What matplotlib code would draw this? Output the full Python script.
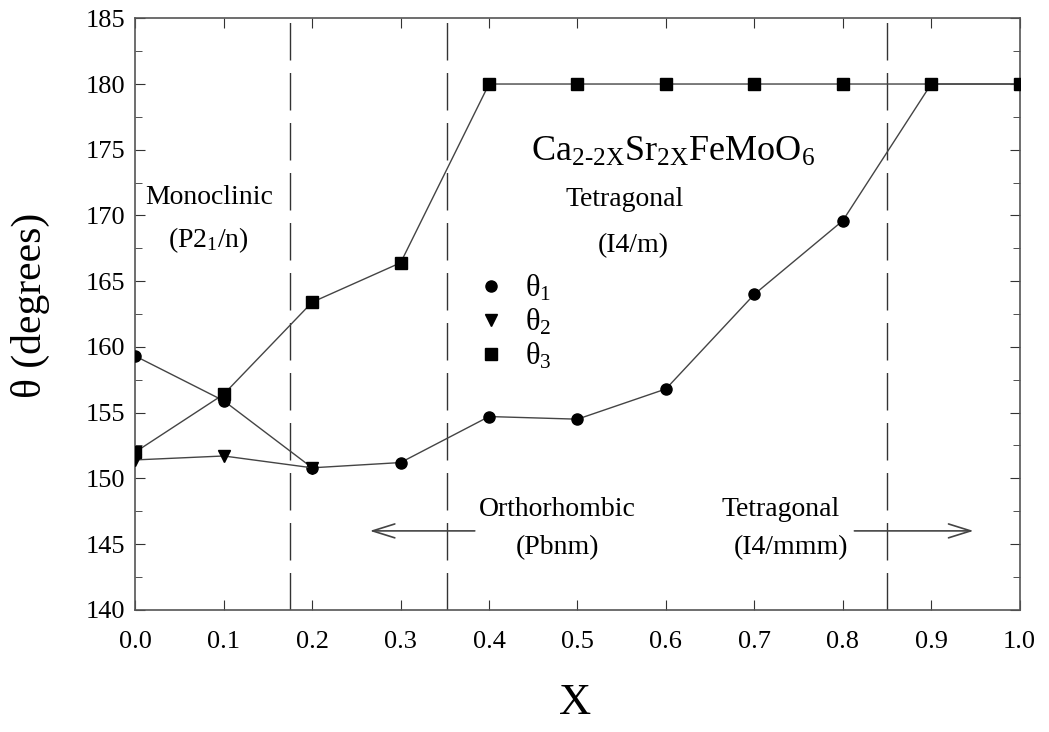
import matplotlib
matplotlib.use("Agg")
import matplotlib.pyplot as plt
from matplotlib.lines import Line2D
from matplotlib.ticker import MultipleLocator, FormatStrFormatter

plt.rcParams['font.family'] = ['Liberation Serif', 'DejaVu Serif']
plt.rcParams['mathtext.fontset'] = 'custom'
plt.rcParams['mathtext.rm'] = 'Liberation Serif'
plt.rcParams['mathtext.it'] = 'Liberation Serif'

# composition x and angles (degrees)
x = [0.0, 0.1, 0.2, 0.3, 0.4, 0.5, 0.6, 0.7, 0.8, 0.9, 1.0]
theta1 = [159.3, 155.9, 150.8, 151.2, 154.7, 154.5, 156.8, 164.0, 169.6, 180.0, 180.0]
x2 = [0.0, 0.1, 0.2]
theta2 = [151.4, 151.7, 150.8]
theta3 = [152.0, 156.4, 163.4, 166.4, 180.0, 180.0, 180.0, 180.0, 180.0, 180.0, 180.0]

# phase boundaries
boundaries = [0.175, 0.352, 0.85]

fig = plt.figure(figsize=(10.49, 7.32), dpi=100)
ax = fig.add_axes([0.129, 0.167, 0.843, 0.808])

lc = '#444444'
ax.plot(x, theta1, '-', color=lc, lw=1.0, marker='o', ms=8, mfc='black', mec='black', zorder=3)
ax.plot(x2, theta2, '-', color=lc, lw=1.0, marker='v', ms=8, mfc='black', mec='black', zorder=3)
ax.plot(x, theta3, '-', color=lc, lw=1.0, marker='s', ms=8, mfc='black', mec='black', zorder=3)

for b in boundaries:
    ax.axvline(b, color='#333333', lw=1.0, linestyle=(0, (27, 9)), zorder=1)

ax.set_xlim(0, 1.0)
ax.set_ylim(140, 185)
ax.xaxis.set_major_locator(MultipleLocator(0.1))
ax.yaxis.set_major_locator(MultipleLocator(5))
ax.yaxis.set_minor_locator(MultipleLocator(2.5))
ax.xaxis.set_major_formatter(FormatStrFormatter('%.1f'))
ax.tick_params(which='both', direction='in', top=True, right=True, labelsize=19, color='#333333')
ax.tick_params(which='major', length=7)
ax.tick_params(which='minor', length=5)
ax.tick_params(axis='x', pad=15)
ax.tick_params(axis='y', pad=7)
for s in ax.spines.values():
    s.set_color('#555555')
    s.set_linewidth(1.2)

ax.set_xlabel('X', fontsize=32)
ax.xaxis.set_label_coords(0.497, -0.123)
ax.set_ylabel('θ (degrees)', fontsize=30)
ax.yaxis.set_label_coords(-0.096, 0.515)

# annotations
fs = 20
ax.text(0.083, 171.4, 'Monoclinic', ha='center', va='center', fontsize=fs)
ax.text(0.083, 168.1, r'(P2$_1$/n)', ha='center', va='center', fontsize=fs)
ax.text(0.608, 174.8, r'Ca$_{\mathrm{2\text{-}2X}}$Sr$_{\mathrm{2X}}$FeMoO$_6$', ha='center', va='center', fontsize=26)
ax.text(0.553, 171.2, 'Tetragonal', ha='center', va='center', fontsize=fs)
ax.text(0.563, 167.7, '(I4/m)', ha='center', va='center', fontsize=fs)
ax.text(0.477, 147.6, 'Orthorhombic', ha='center', va='center', fontsize=fs)
ax.text(0.477, 144.7, '(Pbnm)', ha='center', va='center', fontsize=fs)
ax.text(0.73, 147.6, 'Tetragonal', ha='center', va='center', fontsize=fs)
ax.text(0.742, 144.7, '(I4/mmm)', ha='center', va='center', fontsize=fs)

arrow = dict(arrowstyle='->,head_length=1.6,head_width=0.5', color='#444444', lw=1.2)
ax.annotate('', xy=(0.262, 146.0), xytext=(0.387, 146.0), arrowprops=arrow)
ax.annotate('', xy=(0.951, 146.0), xytext=(0.81, 146.0), arrowprops=arrow)

handles = [Line2D([], [], ls='none', marker=m, ms=8, color='black') for m in ['o', 'v', 's']]
labels = [r'$\theta_1$', r'$\theta_2$', r'$\theta_3$']
ax.legend(handles, labels, loc='center left', bbox_to_anchor=(0.354, 0.486), frameon=False,
          fontsize=22, handlelength=1.0, handletextpad=0.6, labelspacing=0.12)

fig.savefig('out.png', dpi=100)
